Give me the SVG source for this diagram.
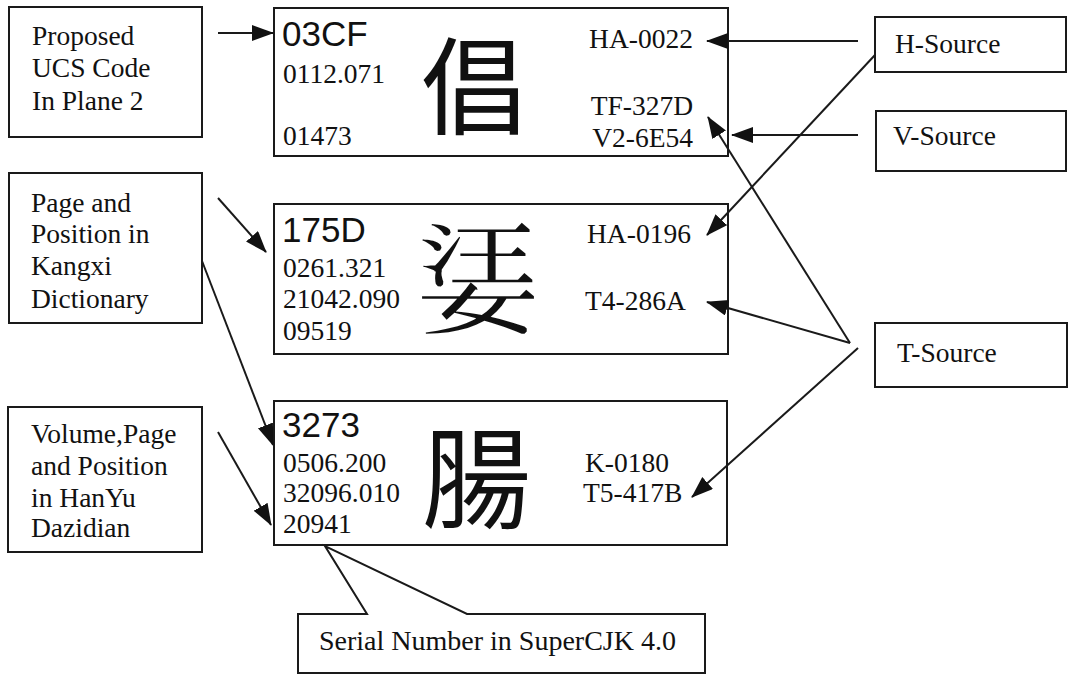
<svg xmlns="http://www.w3.org/2000/svg" width="1069" height="677" viewBox="0 0 1069 677">
<style>
.box{fill:#fff;stroke:#1a1a1a;stroke-width:2}
.t{font-family:"Liberation Serif","Times New Roman",serif;font-size:27.5px;fill:#111}
.c{font-family:"Liberation Sans",Arial,sans-serif;font-size:35px;fill:#111}
.h{font-family:"Noto Sans CJK TC","Noto Sans CJK SC","Noto Sans CJK JP",sans-serif;font-size:118px;fill:#111;text-anchor:middle}
.ln{stroke:#1a1a1a;stroke-width:2;fill:none}
.ar{marker-end:url(#ah)}
</style>
<defs>
<marker id="ah" markerUnits="userSpaceOnUse" markerWidth="24" markerHeight="18" refX="21" refY="8" orient="auto">
<path d="M0,0 L22,8 L0,16 z" fill="#111"/>
</marker>
</defs>
<rect width="1069" height="677" fill="#fff"/>

<g id="label-ucs">
<rect class="box" x="9" y="7" width="193" height="130"/>
<text class="t" x="32" y="45">Proposed</text>
<text class="t" x="32" y="77">UCS Code</text>
<text class="t" x="32" y="110">In Plane 2</text>
</g>

<g id="label-kangxi">
<rect class="box" x="9" y="173" width="193" height="150"/>
<text class="t" x="31" y="212">Page and</text>
<text class="t" x="31" y="243">Position in</text>
<text class="t" x="31" y="275">Kangxi</text>
<text class="t" x="31" y="308">Dictionary</text>
</g>

<g id="label-hanyu">
<rect class="box" x="8" y="407" width="194" height="145"/>
<text class="t" x="31" y="443">Volume,Page</text>
<text class="t" x="31" y="475">and Position</text>
<text class="t" x="31" y="507">in HanYu</text>
<text class="t" x="31" y="537">Dazidian</text>
</g>

<g id="char-03CF">
<rect class="box" x="274" y="8" width="454" height="148"/>
<text class="c" x="282" y="46">03CF</text>
<text class="t" x="283" y="83">0112.071</text>
<text class="t" x="283" y="145">01473</text>
<text class="h" x="474" y="126" style="font-size:106px">倡</text>
<text class="t" x="693" y="48" text-anchor="end">HA-0022</text>
<text class="t" x="693" y="115" text-anchor="end">TF-327D</text>
<text class="t" x="693" y="147" text-anchor="end">V2-6E54</text>
</g>

<g id="char-175D">
<rect class="box" x="274" y="204" width="454" height="150"/>
<text class="c" x="282" y="242">175D</text>
<text class="t" x="283" y="277">0261.321</text>
<text class="t" x="283" y="308">21042.090</text>
<text class="t" x="283" y="340">09519</text>
<text class="h" x="478" y="326" style="font-size:124px">&#x2175D;</text>
<text class="t" x="587" y="243">HA-0196</text>
<text class="t" x="585" y="310">T4-286A</text>
</g>

<g id="char-3273">
<rect class="box" x="274" y="401" width="453" height="144"/>
<text class="c" x="282" y="437">3273</text>
<text class="t" x="283" y="472">0506.200</text>
<text class="t" x="283" y="502">32096.010</text>
<text class="t" x="283" y="533">20941</text>
<text class="h" x="477" y="520" style="font-size:110px">腸</text>
<text class="t" x="585" y="472">K-0180</text>
<text class="t" x="583" y="502">T5-417B</text>
</g>

<g id="src-h">
<rect class="box" x="875" y="17" width="191" height="55"/>
<text class="t" x="895" y="53">H-Source</text>
</g>

<g id="src-v">
<rect class="box" x="876" y="111" width="190" height="60"/>
<text class="t" x="893" y="145">V-Source</text>
</g>

<g id="src-t">
<rect class="box" x="875" y="323" width="192" height="64"/>
<text class="t" x="897" y="362">T-Source</text>
</g>

<g id="serial">
<path class="box" d="M298,614 L367,614 L325,546 L467,614 L705,614 L705,673 L298,673 Z"/>
<text class="t" x="319" y="650" style="font-size:28px">Serial Number in SuperCJK 4.0</text>
</g>

<g id="connectors">
<line class="ln ar" x1="218" y1="33" x2="273" y2="33"/>
<line class="ln ar" x1="218" y1="198" x2="266" y2="252"/>
<line class="ln ar" x1="202" y1="261" x2="273" y2="445"/>
<line class="ln ar" x1="218" y1="432" x2="271" y2="525"/>
<line class="ln ar" x1="858" y1="41" x2="707" y2="41"/>
<line class="ln ar" x1="858" y1="135" x2="732" y2="135"/>
<line class="ln ar" x1="875" y1="55" x2="707" y2="235"/>
<line class="ln ar" x1="850" y1="343" x2="708" y2="117"/>
<line class="ln ar" x1="850" y1="343" x2="707" y2="302"/>
<line class="ln ar" x1="858" y1="348" x2="692" y2="497"/>
</g>
</svg>
